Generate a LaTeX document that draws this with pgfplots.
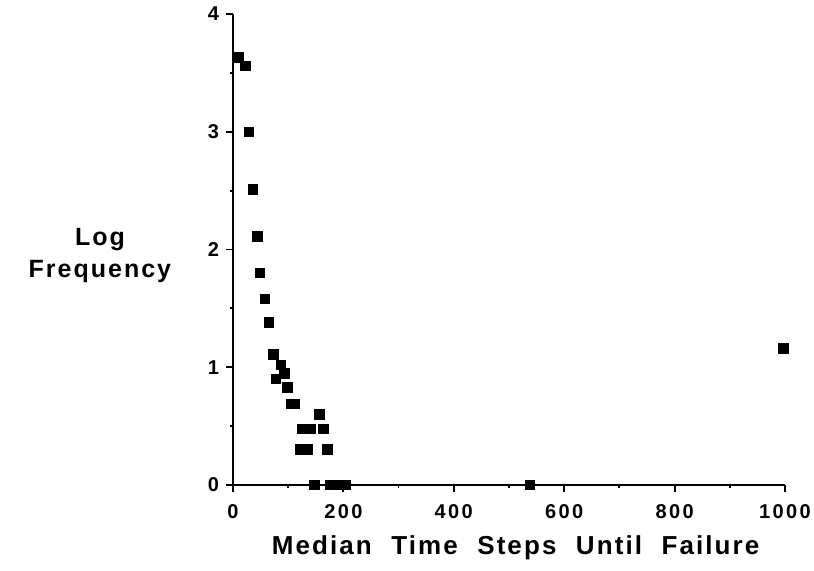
\documentclass[border=0pt]{standalone}
\usepackage{fontspec}
\setmainfont{Liberation Sans}
\newfontfamily\tickfont[LetterSpace=12]{Liberation Sans Bold}
\newfontfamily\labfont[LetterSpace=8]{Liberation Sans Bold}
\usepackage{pgfplots}
\pgfplotsset{compat=1.18}
\begin{document}
\begin{tikzpicture}
\useasboundingbox (-116.5pt,-42.5pt) rectangle (290.5pt,242.5pt);
\begin{axis}[
  scale only axis, width=276pt, height=235.5pt,
  xmin=0, xmax=1000, ymin=0, ymax=4,
  axis lines=left, axis line style={-, line width=1.1pt},
  clip=false,
  xtick={0,200,400,600,800,1000}, ytick={0,1,2,3,4},
  minor x tick num=1, minor y tick num=1,
  tick align=outside, major tick length=3.5pt, minor tick length=1.5pt,
  tick style={line width=0.9pt, black},
  ticklabel style={font=\tickfont\fontsize{10}{11}\selectfont},
  xticklabel style={yshift=-2.5pt},
  /pgf/number format/assume math mode=true,
  /pgf/number format/1000 sep={},
]
\addplot[only marks, mark=square*, mark size=2.4pt, black] coordinates {
(11,3.63) (22,3.56) (29,3.00) (36,2.51) (44,2.11) (49,1.80) (58,1.58) (65,1.38)
(73,1.11) (78,0.90) (87,1.02) (93,0.95) (99,0.83) (106,0.69) (111,0.69)
(122,0.30) (135,0.30) (171,0.30)
(125,0.477) (140,0.477) (164,0.477) (156,0.60)
(147,0) (176,0) (189,0) (204,0) (538,0)
(997,1.16)
};
\node[align=center, font=\labfont\fontsize{12.5}{16}\selectfont] at (rel axis cs:-0.241,0.488) {Log\\Frequency};
\node[font=\labfont\fontsize{13}{15}\selectfont] at (rel axis cs:0.512,-0.134) {Median\hspace{0.75em}Time\hspace{0.75em}Steps\hspace{0.75em}Until\hspace{0.75em}Failure};
\end{axis}
\end{tikzpicture}
\end{document}
